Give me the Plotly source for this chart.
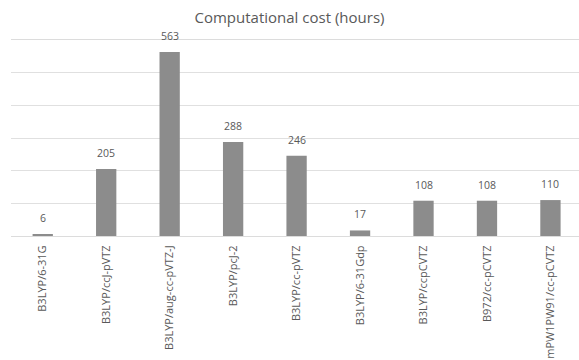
import plotly.graph_objects as go

categories = ["B3LYP/6-31G", "B3LYP/ccJ-pVTZ", "B3LYP/aug-cc-pVTZ-J", "B3LYP/pcJ-2",
              "B3LYP/cc-pVTZ", "B3LYP/6-31Gdp", "B3LYP/ccpCVTZ", "B972/cc-pCVTZ",
              "mPW1PW91/cc-pCVTZ"]
hours = [6, 205, 563, 288, 246, 17, 108, 108, 110]
title = "Computational cost (hours)"

text_color = "#595959"
fig = go.Figure()
fig.add_trace(go.Bar(x=categories, y=hours, marker=dict(color="#8c8c8c", line=dict(width=0)),
                     width=0.32, showlegend=False))
for c, v in zip(categories, hours):
    fig.add_annotation(x=c, y=v, text=str(v), showarrow=False, yanchor="bottom", yshift=7,
                       font=dict(family="Open Sans", size=10.5, color=text_color))

fig.update_layout(
    width=579, height=360,
    margin=dict(l=11, r=0, t=40, b=124),
    paper_bgcolor="white", plot_bgcolor="white",
    title=dict(text=title, x=0.5, xanchor="center", y=0.95, yanchor="middle",
               font=dict(family="Open Sans", size=15, color=text_color)),
    xaxis=dict(range=[-0.5, 8.45], tickangle=-90, showgrid=False, showline=True, mirror=True,
               linecolor="#dcdcdc", linewidth=1, ticks="outside", ticklen=4, tickcolor="rgba(0,0,0,0)",
               tickfont=dict(family="Open Sans", size=11, color=text_color)),
    yaxis=dict(range=[0, 600], dtick=100, showticklabels=False, showgrid=True,
               gridcolor="#e0e0e0", gridwidth=1, zeroline=False, ticks=""),
    bargap=0.68,
)
fig.write_html("out.html")
